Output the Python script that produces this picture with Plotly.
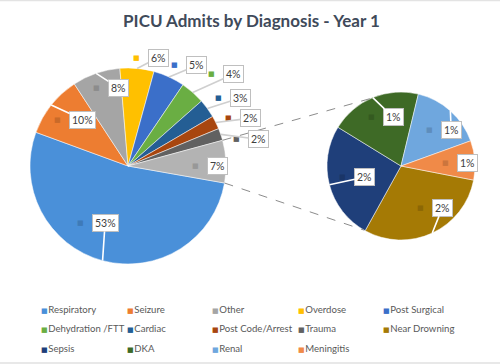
import math
import plotly.graph_objects as go

W, H = 500, 364

# ---- data ----
main_labels = ["Respiratory", "Seizure", "Other", "Overdose", "Post Surgical",
               "Dehydration /FTT", "Cardiac", "Post Code/Arrest", "Trauma"]
main_values = [52.8, 10.2, 7.9, 5.6, 5.2, 4.0, 3.1, 2.2, 2.0]
sub_labels = ["Near Drowning", "Sepsis", "DKA", "Renal", "Meningitis"]
sub_values = [2.1, 1.8, 1.4, 1.1, 0.6]
combined_label = "Other (combined)"

legend_order = ["Respiratory", "Seizure", "Other", "Overdose", "Post Surgical",
                "Dehydration /FTT", "Cardiac", "Post Code/Arrest", "Trauma", "Near Drowning",
                "Sepsis", "DKA", "Renal", "Meningitis"]

colors = {
    "Respiratory": "#4A90D9", "Seizure": "#ED7D31", "Other": "#A5A5A5",
    "Overdose": "#FFC000", "Post Surgical": "#3B6FC9", "Dehydration /FTT": "#6AAE43",
    "Cardiac": "#245E94", "Post Code/Arrest": "#A8460F", "Trauma": "#616161",
    "Near Drowning": "#A57A05", "Sepsis": "#1F3F7A", "DKA": "#3E6A26",
    "Renal": "#6FA7DE", "Meningitis": "#F08A48", combined_label: "#B3B3B3",
}

# ---- layout geometry (pixels) ----
C1, R1 = (128, 166), 98
C2, R2 = (401, 166), 74
ROT1, ROT2 = 100, 101

# label placement (radius factor, angle nudge) per slice
main_lab_rf = [0.76, 0.86, 0.86, 1.11, 1.13, 1.27, 1.16, 1.14, 1.14, 0.69]
main_lab_da = [25, -5, -3, -1, 0, 1, -1, 1, 5, 3]
main_arrow = [True, True, True, True, True, True, True, True, True, False]
sub_lab_rf = [0.62, 0.80, 0.77, 0.62, 0.60]
sub_lab_da = [0, 4, -9, -4, 1]
sub_arrow = [True, True, True, True, False]

FONT = "Lato, 'Open Sans', sans-serif"


def px(x):
    return x / W


def py(y):
    return 1 - y / H


def polar(c, r, ang):
    a = math.radians(ang % 360)
    return c[0] + r * math.sin(a), c[1] - r * math.cos(a)


def darker(hexc, f=0.8):
    h = hexc.lstrip("#")
    r, g, b = (int(h[i:i + 2], 16) for i in (0, 2, 4))
    return "#%02X%02X%02X" % (int(r * f), int(g * f), int(b * f))


def slice_mids(values, rot):
    tot = sum(values)
    cum, mids, bounds = 0, [], []
    for v in values:
        a0 = rot + cum / tot * 360
        cum += v
        a1 = rot + cum / tot * 360
        mids.append((a0 + a1) / 2)
        bounds.append((a0, a1))
    return mids, bounds


main_all_labels = main_labels + [combined_label]
main_all_values = main_values + [sum(sub_values)]
total = sum(main_all_values)

fig = go.Figure()
fig.add_trace(go.Pie(
    labels=main_all_labels, values=main_all_values, sort=False, direction="clockwise",
    rotation=ROT1, textinfo="none", hoverinfo="label+percent", showlegend=False,
    marker=dict(colors=[colors[l] for l in main_all_labels], line=dict(color="white", width=0.5)),
    domain=dict(x=[px(C1[0] - R1), px(C1[0] + R1)], y=[py(C1[1] + R1), py(C1[1] - R1)]),
))
fig.add_trace(go.Pie(
    labels=sub_labels, values=sub_values, sort=False, direction="clockwise",
    rotation=ROT2, textinfo="none", hoverinfo="label", showlegend=False,
    marker=dict(colors=[colors[l] for l in sub_labels], line=dict(color="white", width=0.5)),
    domain=dict(x=[px(C2[0] - R2), px(C2[0] + R2)], y=[py(C2[1] + R2), py(C2[1] - R2)]),
))

annotations = []


def add_labels(center, R, labels, values, rot, rfs, das, arrows, pct_total):
    mids, _ = slice_mids(values, rot)
    for lab, v, m, rf, da, arr in zip(labels, values, mids, rfs, das, arrows):
        sx, sy = polar(center, rf * R, m + da)
        col = colors[lab]
        sqcol = col if rf > 1 else darker(col, 0.85)
        annotations.append(dict(x=px(sx), y=py(sy), xref="paper", yref="paper",
                                xanchor="center", yanchor="middle",
                                text="■", showarrow=False,
                                font=dict(size=7, color=sqcol, family="DejaVu Sans")))
        text = f"{round(v / pct_total * 100)}%"
        bw = 8 + 6 * len(text)  # approx box width
        bx, by = sx + 12 + bw / 2, sy
        if arr:
            tx, ty = polar(center, R, m)
            annotations.append(dict(
                x=px(tx), y=py(ty), xref="paper", yref="paper",
                xanchor="center", yanchor="middle",
                ax=bx - tx, ay=by - ty, axref="pixel", ayref="pixel",
                text=text, showarrow=True, arrowhead=0, arrowwidth=1.6,
                arrowcolor="#FFFFFF" if rf < 1 else "#CFCFCF",
                bgcolor="white", bordercolor="#BFBFBF", borderwidth=1, borderpad=2,
                font=dict(size=10.5, color="#404040", family=FONT)))
        else:
            annotations.append(dict(
                x=px(bx), y=py(by), xref="paper", yref="paper",
                xanchor="center", yanchor="middle",
                text=text, showarrow=False,
                bgcolor="white", bordercolor="#BFBFBF", borderwidth=1, borderpad=2,
                font=dict(size=10.5, color="#404040", family=FONT)))


add_labels(C1, R1, main_all_labels, main_all_values, ROT1, main_lab_rf, main_lab_da, main_arrow, total)
add_labels(C2, R2, sub_labels, sub_values, ROT2, sub_lab_rf, sub_lab_da, sub_arrow, total)

# legend as text annotations in a 5-column grid
for i, lab in enumerate(legend_order):
    col, row = i % 5, i // 5
    annotations.append(dict(
        x=px(39 + col * 85.6), y=py(309 + row * 19.5), xref="paper", yref="paper",
        xanchor="left", yanchor="middle", showarrow=False,
        text=f"<span style='color:{colors[lab]};font-family:DejaVu Sans;font-size:7px'>■</span>&#8202;{lab}",
        font=dict(size=9.6, color="#595959", family=FONT)))

# connector lines between the pies
_, b1 = slice_mids(main_all_values, ROT1)
a_top, a_bot = b1[-1]
p1 = polar(C1, R1, a_top)
p2 = polar(C2, R2, 336)
p3 = polar(C1, R1, a_bot)
p4 = polar(C2, R2, 210)
shapes = [
    dict(type="line", xref="paper", yref="paper", x0=px(p1[0]), y0=py(p1[1]), x1=px(p2[0]), y1=py(p2[1]),
         line=dict(color="#8C8C8C", width=1, dash="dash")),
    dict(type="line", xref="paper", yref="paper", x0=px(p3[0]), y0=py(p3[1]), x1=px(p4[0]), y1=py(p4[1]),
         line=dict(color="#8C8C8C", width=1, dash="dash")),
    dict(type="line", xref="paper", yref="paper", x0=0, y0=py(0.5), x1=1, y1=py(0.5),
         line=dict(color="#E3E3E3", width=1.5)),
    dict(type="line", xref="paper", yref="paper", x0=0, y0=py(363), x1=1, y1=py(363),
         line=dict(color="#E8E8E8", width=2)),
]

fig.update_layout(
    width=W, height=H, margin=dict(l=0, r=0, t=0, b=0),
    paper_bgcolor="white", plot_bgcolor="white",
    title=dict(text="<b>PICU Admits by Diagnosis - Year 1</b>", x=251.5 / W, xanchor="center",
               y=py(21), yanchor="middle", yref="container",
               font=dict(size=17, color="#404A5A", family=FONT)),
    annotations=annotations, shapes=shapes, showlegend=False,
)
fig.write_html("out.html", config={"displayModeBar": False},
               post_script="document.body.style.margin='0';")
